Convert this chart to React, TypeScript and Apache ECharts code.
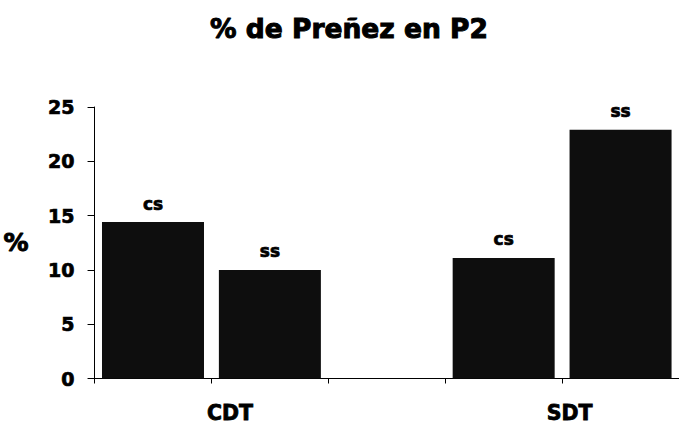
import React, { useEffect, useRef } from "react";
import * as echarts from "echarts";

const titleText = "% de Preñez en P2";
const groups = ["CDT", "SDT"];
const seriesNames = ["cs", "ss"];
const csValues = [14.4, 11.1];
const ssValues = [10, 22.9];
const yTicks = [0, 5, 10, 15, 20, 25];

const FONT = "DejaVu Sans";
const heavy = { textBorderColor: "#000", textBorderWidth: 0.7 };

export default function App() {
  const ref = useRef<HTMLDivElement>(null);
  useEffect(() => {
    if (!ref.current) return;
    const chart = echarts.init(ref.current, undefined, { renderer: "svg" });
    // 5 slots: cs, ss, gap, cs, ss
    const slots = ["CDT-cs", "CDT-ss", "gap", "SDT-cs", "SDT-ss"];
    const csData = [csValues[0], "-", "-", csValues[1], "-"];
    const ssData = ["-", ssValues[0], "-", "-", ssValues[1]];
    const barStyle = { color: "#0e0e0e" };
    const label = {
      show: true,
      position: "top" as const,
      distance: 10,
      formatter: (p: any) => p.seriesName,
      fontFamily: FONT,
      fontWeight: "bold" as const,
      fontSize: 17,
      color: "#000",
      ...heavy,
    };
    chart.setOption({
      animation: false,
      backgroundColor: "#fff",
      title: {
        text: titleText,
        left: 344,
        textAlign: "center",
        top: 10,
        textStyle: { fontFamily: FONT, fontWeight: "bold", fontSize: 26.5, color: "#000", ...heavy, textBorderWidth: 1 },
      },
      grid: { left: 89, right: -6, top: 107, bottom: 49.5 },
      xAxis: {
        type: "category",
        data: slots,
        boundaryGap: true,
        axisLine: { lineStyle: { color: "#000", width: 1 } },
        axisTick: { show: true, length: 5, lineStyle: { color: "#000" } },
        axisLabel: { show: false },
        splitLine: { show: false },
      },
      yAxis: {
        type: "value",
        min: yTicks[0],
        max: yTicks[yTicks.length - 1],
        interval: 5,
        name: "%",
        nameLocation: "middle",
        nameRotate: 0,
        nameGap: 66,
        nameTextStyle: { fontFamily: FONT, fontWeight: "bold", fontSize: 25, color: "#000", ...heavy, textBorderWidth: 1 },
        axisLine: { show: true, lineStyle: { color: "#000", width: 1 } },
        axisTick: { show: true, length: 7, lineStyle: { color: "#000" } },
        axisLabel: { margin: 20, fontFamily: FONT, fontWeight: "bold", fontSize: 19, color: "#000", ...heavy },
        splitLine: { show: false },
      },
      series: [
        { name: seriesNames[0], type: "bar", data: csData, barWidth: 102, barGap: "-100%", itemStyle: barStyle, label },
        { name: seriesNames[1], type: "bar", data: ssData, barWidth: 102, barGap: "-100%", itemStyle: barStyle, label },
      ],
      graphic: [
        {
          type: "text",
          x: 230,
          y: 413,
          style: { text: groups[0], fontFamily: FONT, fontWeight: "bold", fontSize: 20.5, fill: "#000", align: "center", verticalAlign: "middle", stroke: "#000", lineWidth: 0.8 },
        },
        {
          type: "text",
          x: 569.5,
          y: 413,
          style: { text: groups[1], fontFamily: FONT, fontWeight: "bold", fontSize: 20.5, fill: "#000", align: "center", verticalAlign: "middle", stroke: "#000", lineWidth: 0.8 },
        },
      ],
    });
    return () => chart.dispose();
  }, []);
  return <div ref={ref} style={{ width: 679, height: 428, position: "absolute", left: 0, top: 0 }} />;
}
